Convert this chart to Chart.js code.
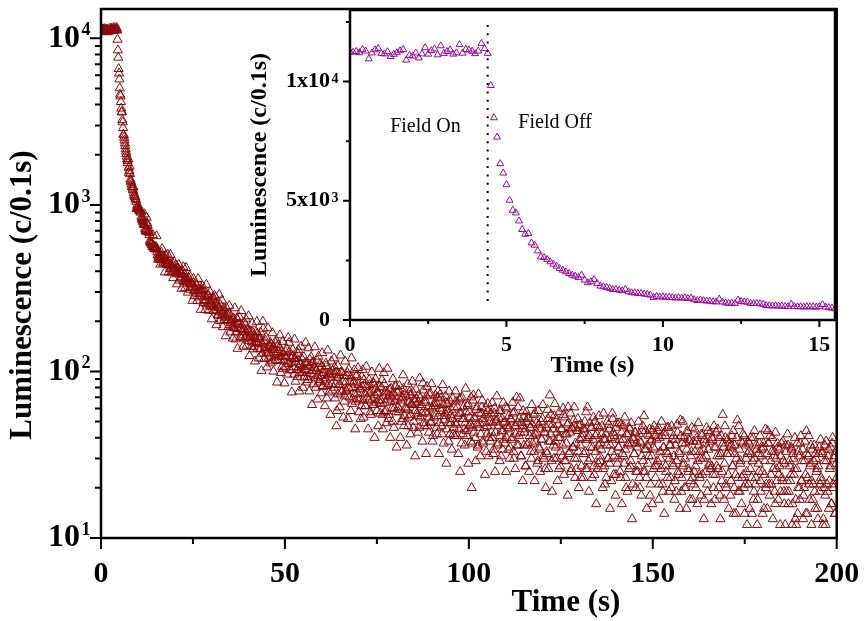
<!DOCTYPE html>
<html><head><meta charset="utf-8">
<script src="https://cdn.jsdelivr.net/npm/chart.js@4.4.1/dist/chart.umd.min.js"></script>
<style>
html,body{margin:0;padding:0;background:#fff;}
#wrap{position:relative;width:864px;height:621px;overflow:hidden;}
#main{position:absolute;left:0;top:0;width:864px;height:621px;}
#inset{position:absolute;left:230px;top:0;width:610px;height:390px;}
</style></head><body>
<div id="wrap">
<canvas id="main" width="864" height="621"></canvas>
<canvas id="inset" width="610" height="390"></canvas>
</div>
<script>
// ---------------- data (counts per 0.1 s) ----------------
const sampleStep = 0.1;          // s, early record (0 - 15.9 s)
const fieldOffTime = 4.4;        // s, field switched off
// 0.0 - 4.4 s, field on
const fieldOnCounts = [11250,11230,11260,11210,11350,11280,10950,11200,11330,11390,
  11180,11160,11250,11050,11140,11210,11290,11340,10900,11100,
  11070,11200,10990,11160,11420,11150,11300,11370,11120,11500,
  11180,11260,11330,11150,11200,11550,11190,11350,11320,11270,
  11170,11280,11600,11380,11180];
// 4.5 - 15.9 s, field off
const decayCounts = [9833,8481,7670,6556,6163,5677,5021,4603,4490,4155,
  3795,3598,3627,3234,3138,2900,2649,2622,2538,2441,
  2343,2259,2162,2092,2022,1952,1883,1841,1785,1883,
  1674,1562,1604,1701,1534,1423,1395,1367,1325,1283,
  1283,1255,1227,1283,1185,1143,1143,1115,1115,1088,
  1074,1046,948,
  990,965,975,950,960,940,925,945,915,930,
  900,920,850,820,835,810,800,790,770,760,
  880,760,720,700,710,690,840,780,760,750,
  700,690,700,680,660,610,600,590,600,580,
  590,575,560,660,570,555,560,545,560,550,
  555,540,560,650,545,520,500,470,490,480,
  500,470];
// 16.0 - 200.0 s, readings at 16.0, 16.25, 16.5 ...
const tailStart = 16, tailStep = 0.25;
const tailCounts = [
  505,470,490,470,451,488,451,460,437,463,440,413,439,421,445,403,410,413,384,399,
  387,406,363,385,388,368,353,381,359,343,357,366,334,319,335,337,320,305,320,310,
  326,298,306,279,308,293,284,309,269,285,265,281,285,263,246,264,248,270,244,247,
  235,257,242,218,242,227,250,216,224,231,204,220,212,222,202,222,191,200,204,187,
  209,183,195,172,207,180,191,180,160,189,177,165,178,192,162,169,153,172,159,173,
  150,172,141,161,157,147,169,148,156,136,150,128,200,152,138,153,129,139,129,140,
  149,123,136,115,139,126,147,127,116,131,139,117,123,107,129,115,123,106,136,115,
  111,131,102,120,113,124,96,119,114,102,128,106,98,111,120,100,107,92,113,102,
  113,89,107,118,97,101,112,84,105,91,101,116,94,86,104,94,107,81,98,87,
  91,108,82,97,75,99,92,84,101,80,106,84,47,92,73,95,83,99,76,87,
  94,71,86,76,98,80,70,87,92,64,80,87,73,66,95,74,83,68,78,62,
  81,67,89,73,62,81,75,67,83,57,77,68,86,63,72,79,58,75,67,81,
  64,80,55,71,84,65,58,74,68,55,78,66,70,50,74,60,82,57,68,61,
  77,59,67,50,69,79,54,61,71,59,47,65,72,55,63,75,50,66,58,68,
  54,65,46,69,61,56,85,49,65,57,71,47,61,53,74,50,60,41,64,56,
  62,46,70,54,49,73,58,42,63,51,56,65,45,57,38,67,49,59,52,42,
  61,49,66,41,54,45,56,69,37,52,61,45,49,57,41,64,47,53,38,20,
  46,72,53,40,59,48,36,56,49,42,61,38,52,46,55,33,47,58,40,50,
  56,40,49,34,60,43,51,36,47,58,41,31,52,44,49,37,61,40,47,34,
  46,35,51,40,56,30,47,42,70,49,36,52,43,31,47,58,36,45,27,50,
  37,52,41,46,30,48,41,33,56,38,43,29,48,34,45,39,52,31,43,26,
  46,32,52,38,72,42,29,48,36,54,38,30,43,48,26,40,33,45,36,55,
  29,42,37,48,61,32,43,25,46,35,51,30,37,26,44,33,47,36,23,40,
  45,32,50,26,39,61,29,41,35,46,23,39,27,50,33,42,26,36,46,29,
  34,47,26,39,21,42,36,30,48,28,36,22,56,43,31,39,24,49,30,35,
  39,23,43,32,47,28,34,20,42,37,26,45,29,37,21,39,32,43,25,35,
  27,42,20,37,31,47,25,34,44,23,36,28,41,18,38,31,44,26,34,23,
  39,29,46,21,33,26,41,19,35,43,27,33,23,46,30,36,20,39,27,31,
  22,36,29,43,24,32,51,19,37,27,40,30,20,34,43,25,38,22,33,17,
  38,25,33,20,40,29,36,23,30,42,24,34,17,37,31,21,44,27,38,26,
  27,39,20,35,24,43,31,26,40,18,32,22,55,35,28,40,20,32,24,37,
  32,22,41,27,14,36,24,30,51,19,34,28,38,23,42,20,14,36,25,32,
  21,37,26,32,14,40,19,30,23,34,17,28,37,22,31,25,35,15,29,20,
  32,44,37,18,29,21,40,26,33,16,30,22,35,24,27,19,37,22,29,16,
  12,33,22,36,19,27,24,34,16,30,26,13,12,37,20,31,17,41,22,34,
  18,29,24,44,14,31,21,27,36,22,17,29,19,32,25,15,27,35,21,23,
  32,12,20,36,12,29,19,34,22,27,16,37,21,30,14,33,23
];
// 16.125 - 199.875 s, readings in between (16.125, 16.375 ...)
const tailStartB = 16.125;
const tailCountsB = [
  439,517,545,445,482,394,499,444,502,394,460,502,394,427,364,454,392,435,334,417,
  438,352,397,314,403,424,346,317,419,347,298,363,374,310,338,266,360,284,316,334,
  265,360,292,325,235,306,325,258,284,234,332,255,289,232,300,253,206,279,231,285,
  279,190,252,217,289,201,233,267,185,240,209,163,241,218,185,248,172,214,195,158,
  182,240,156,208,137,192,212,161,231,173,141,197,158,206,143,179,215,124,164,141,
  194,136,165,115,172,199,137,120,161,172,101,146,181,119,134,160,106,182,121,143,
  112,145,170,100,135,117,154,86,144,123,165,98,132,151,104,85,132,123,96,159,
  149,102,120,75,135,106,156,87,121,93,135,76,110,141,98,80,122,103,149,86,
  93,138,76,109,122,63,114,96,140,80,101,68,123,89,111,74,129,82,102,62,
  112,69,134,84,95,55,115,77,96,120,69,99,58,108,83,61,125,75,98,53,
  66,115,77,94,52,103,79,58,120,68,85,102,45,93,69,105,57,79,52,93,
  102,53,83,62,107,70,45,89,74,55,99,63,84,40,90,65,74,47,104,56,
  67,89,45,98,57,76,49,104,52,72,40,79,60,90,46,66,81,35,75,57,
  82,40,70,52,95,47,73,60,36,84,53,75,42,64,87,46,68,31,78,56,
  43,72,91,53,63,38,77,47,67,32,81,56,43,72,49,84,38,62,53,72,
  65,42,76,32,60,69,47,83,37,54,71,28,64,49,76,42,55,34,69,46,
  41,76,48,61,32,68,25,56,70,42,52,36,79,44,62,28,57,48,70,37,
  67,43,52,29,61,35,73,46,31,56,67,37,49,24,60,42,64,31,53,38,
  43,65,32,56,25,50,71,37,53,29,58,44,34,65,39,50,25,60,45,54,
  30,52,39,65,33,57,26,47,36,61,41,69,31,49,22,53,43,27,57,36,
  53,25,46,33,63,37,55,22,42,49,28,58,35,25,50,39,63,30,43,20,
  33,59,26,48,38,55,19,45,30,64,35,51,22,40,57,27,45,31,60,24,
  53,29,42,18,49,33,56,26,45,35,61,23,46,30,52,20,39,48,27,42,
  23,45,33,57,26,40,19,49,30,46,35,53,24,41,16,47,28,54,31,37,
  42,20,56,27,39,23,50,30,45,15,40,33,52,24,41,18,46,28,35,49,
  25,48,16,39,31,53,23,42,19,36,46,27,49,13,40,32,43,20,37,25,
  50,23,38,18,44,29,54,25,34,15,42,31,45,21,39,16,35,47,27,41,
  27,44,17,40,30,50,21,35,14,41,25,46,32,19,36,23,47,28,41,17,
  39,19,48,25,33,15,41,23,50,28,20,37,15,44,26,39,17,31,46,23,
  21,45,27,38,16,49,24,33,18,41,30,13,39,25,46,19,34,28,43,16,
  40,24,47,17,35,27,45,20,31,13,41,25,37,17,47,21,32,39,15,35,
  18,36,27,44,20,32,14,40,23,47,19,29,16,37,24,41,21,30,12,38,
  33,15,40,23,29,17,44,21,36,12,32,25,41,19,34,14,37,24,45,21,
  15,37,21,41,24,33,13,31,19,43,26,37,17,34,12,31,23,38,19,28,
  36,19,42,16,29,22,35,12,32,24,40,17,26,14,33,20,37,22,29,13,
  20,38,14,32,23,41,17,28,12,34,21,36,15,30,26,13,32,19,39,22,
  33,13,29,18,38,21,31,15,26,35,16,40,20,31,14,28
];

// ---------------- axes / ticks ----------------
const mainXMajor = [0, 50, 100, 150, 200];
const mainXLabels = ['0', '50', '100', '150', '200'];
const mainXMinor = [25, 75, 125, 175];
const mainYMajor = [10, 100, 1000, 10000];
const mainYBase = ['10', '10', '10', '10'];
const mainYExp = ['1', '2', '3', '4'];
const mainYMinor = [20,30,40,50,60,70,80,90,200,300,400,500,600,700,800,900,2000,3000,4000,5000,6000,7000,8000,9000];

const insetXMajor = [0, 5, 10, 15];
const insetXLabels = ['0', '5', '10', '15'];
const insetXMinor = [2.5, 7.5, 12.5];
const insetYMajor = [0, 5000, 10000];
const insetYBase = ['0', '5x10', '1x10'];
const insetYExp = ['', '3', '4'];
const insetYMinor = [2500, 7500, 12500];
const insetXMax = 15.5;

const fieldLine = [800, 12400];   // extent of the dotted "field off" marker
const fieldOnLabel = {x: 2.41, y: 7880, text: 'Field On'};
const fieldOffLabel = {x: 5.38, y: 8060, text: 'Field Off'};

// ---------------- build points ----------------
const earlyCounts = fieldOnCounts.concat(decayCounts);
const earlyPoints = earlyCounts.map((c, i) => ({x: Math.round(i * sampleStep * 10) / 10, y: c}));
const tailPoints = tailCounts.map((c, j) => ({x: tailStart + j * tailStep, y: c}));
const tailPointsB = tailCountsB.map((c, j) => ({x: tailStartB + j * tailStep, y: c}));
const mainPoints = earlyPoints.concat(tailPoints, tailPointsB);
const insetPoints = earlyPoints.filter(p => p.x <= insetXMax + 0.05);

const SERIF = '"Liberation Serif", "Times New Roman", serif';
const mainColor = '#8b0a0a';
const insetColor = '#980a98';

function fixTicks(values) {
  return function (scale) { scale.ticks = values.map(v => ({value: v})); };
}
function fitBox(w, h) {
  return function (scale) {
    if (w !== null) scale.width = w;
    if (h !== null) scale.height = h;
    scale.paddingTop = 0; scale.paddingBottom = 0;
    scale.paddingLeft = 0; scale.paddingRight = 0;
  };
}

// ---------------- main chart ----------------
const mainDecor = {
  id: 'mainDecor',
  afterDraw(chart) {
    const {ctx, chartArea: a} = chart;
    const sx = chart.scales.x, sy = chart.scales.y;
    ctx.save();
    ctx.strokeStyle = '#000';
    ctx.lineWidth = 2;
    ctx.beginPath();
    mainXMajor.forEach(v => { const p = sx.getPixelForValue(v); ctx.moveTo(p, a.bottom); ctx.lineTo(p, a.bottom + 11); });
    mainXMinor.forEach(v => { const p = sx.getPixelForValue(v); ctx.moveTo(p, a.bottom); ctx.lineTo(p, a.bottom + 6); });
    mainYMajor.forEach(v => { const p = sy.getPixelForValue(v); ctx.moveTo(a.left, p); ctx.lineTo(a.left - 11, p); });
    mainYMinor.forEach(v => { const p = sy.getPixelForValue(v); ctx.moveTo(a.left, p); ctx.lineTo(a.left - 6, p); });
    ctx.stroke();
    ctx.lineWidth = 2.5;
    ctx.strokeRect(a.left, a.top, a.right - a.left, a.bottom - a.top);
    ctx.fillStyle = '#000';
    ctx.font = 'bold 18px ' + SERIF;
    ctx.textAlign = 'left';
    ctx.textBaseline = 'alphabetic';
    mainYMajor.forEach((v, i) => ctx.fillText(mainYExp[i], a.left - 19.5, sy.getPixelForValue(v) - 3));
    ctx.font = 'bold 31px ' + SERIF;
    ctx.textAlign = 'center';
    ctx.textBaseline = 'middle';
    ctx.fillText('Time (s)', 566, 603);
    ctx.translate(23, 295);
    ctx.rotate(-Math.PI / 2);
    ctx.fillText('Luminescence (c/0.1s)', 0, 0);
    ctx.restore();
  }
};

new Chart(document.getElementById('main'), {
  type: 'scatter',
  data: {datasets: [{
    data: mainPoints,
    pointStyle: 'triangle',
    pointRadius: 5.3,
    borderColor: mainColor,
    pointBorderColor: mainColor,
    backgroundColor: 'rgba(0,0,0,0)',
    pointBackgroundColor: 'rgba(0,0,0,0)',
    pointBorderWidth: 1,
    borderWidth: 1,
    showLine: false
  }]},
  options: {
    responsive: false, animation: false, events: [],
    layout: {padding: {top: 9, right: 27.3, left: 0, bottom: 0}},
    plugins: {legend: {display: false}, tooltip: {enabled: false}},
    scales: {
      x: {
        type: 'linear', min: 0, max: 200,
        grid: {display: false, drawTicks: false}, border: {display: false},
        afterBuildTicks: fixTicks(mainXMajor),
        afterFit: fitBox(null, 83),
        ticks: {autoSkip: false, maxRotation: 0, padding: 18, color: '#000',
          font: {family: SERIF, size: 30, weight: 'bold'},
          callback: (v, i) => mainXLabels[i]}
      },
      y: {
        type: 'logarithmic', min: 10, max: 15000,
        grid: {display: false, drawTicks: false}, border: {display: false},
        afterBuildTicks: fixTicks(mainYMajor),
        afterFit: fitBox(101, null),
        ticks: {autoSkip: false, padding: 21, color: '#000',
          font: {family: SERIF, size: 32, weight: 'bold'},
          callback: (v, i) => mainYBase[i]}
      }
    }
  },
  plugins: [mainDecor]
});

// ---------------- inset chart ----------------
const insetDecor = {
  id: 'insetDecor',
  afterDraw(chart) {
    const {ctx, chartArea: a} = chart;
    const sx = chart.scales.x, sy = chart.scales.y;
    ctx.save();
    ctx.strokeStyle = '#000';
    ctx.lineWidth = 2;
    ctx.beginPath();
    insetXMajor.forEach(v => { const p = sx.getPixelForValue(v); ctx.moveTo(p, a.bottom); ctx.lineTo(p, a.bottom + 7); });
    insetXMinor.forEach(v => { const p = sx.getPixelForValue(v); ctx.moveTo(p, a.bottom); ctx.lineTo(p, a.bottom + 4); });
    insetYMajor.forEach(v => { const p = sy.getPixelForValue(v); ctx.moveTo(a.left, p); ctx.lineTo(a.left - 7, p); });
    insetYMinor.forEach(v => { const p = sy.getPixelForValue(v); ctx.moveTo(a.left, p); ctx.lineTo(a.left - 4, p); });
    ctx.stroke();
    ctx.lineWidth = 2.5;
    ctx.strokeRect(a.left, a.top, a.right - a.left, a.bottom - a.top);
    ctx.fillStyle = '#000';
    ctx.font = 'bold 14px ' + SERIF;
    ctx.textAlign = 'left';
    ctx.textBaseline = 'alphabetic';
    insetYMajor.forEach((v, i) => { if (insetYExp[i]) ctx.fillText(insetYExp[i], a.left - 18.5, sy.getPixelForValue(v) + 1); });
    ctx.font = '20px ' + SERIF;
    ctx.textAlign = 'center';
    ctx.fillText(fieldOnLabel.text, sx.getPixelForValue(fieldOnLabel.x), sy.getPixelForValue(fieldOnLabel.y));
    ctx.textAlign = 'left';
    ctx.fillText(fieldOffLabel.text, sx.getPixelForValue(fieldOffLabel.x), sy.getPixelForValue(fieldOffLabel.y));
    ctx.restore();
  }
};

new Chart(document.getElementById('inset'), {
  type: 'scatter',
  data: {datasets: [
    {
      data: insetPoints,
      pointStyle: 'triangle',
      pointRadius: 4,
      borderColor: insetColor,
      pointBorderColor: insetColor,
      backgroundColor: 'rgba(0,0,0,0)',
      pointBackgroundColor: 'rgba(0,0,0,0)',
      pointBorderWidth: 1,
      borderWidth: 1,
      showLine: false
    },
    {
      data: fieldLine.map(v => ({x: fieldOffTime, y: v})),
      showLine: true,
      borderColor: '#000',
      borderWidth: 2,
      borderDash: [2, 6.3],
      pointRadius: 0
    }
  ]},
  options: {
    responsive: false, animation: false, events: [],
    layout: {padding: {top: 10, right: 3.3, left: 0, bottom: 0}},
    plugins: {legend: {display: false}, tooltip: {enabled: false}},
    scales: {
      x: {
        type: 'linear', min: 0, max: insetXMax,
        grid: {display: false, drawTicks: false}, border: {display: false},
        afterBuildTicks: fixTicks(insetXMajor),
        afterFit: fitBox(null, 70),
        ticks: {autoSkip: false, maxRotation: 0, padding: 12, color: '#000',
          font: {family: SERIF, size: 22, weight: 'bold'},
          callback: (v, i) => insetXLabels[i]},
        title: {display: true, text: 'Time (s)', color: '#000',
          font: {family: SERIF, size: 24, weight: 'bold'}, padding: {top: 0, bottom: 9.6}}
      },
      y: {
        type: 'linear', min: 0, max: 13000,
        grid: {display: false, drawTicks: false}, border: {display: false},
        afterBuildTicks: fixTicks(insetYMajor),
        afterFit: fitBox(120, null),
        ticks: {autoSkip: false, padding: 20, color: '#000',
          font: {family: SERIF, size: 22, weight: 'bold'},
          callback: (v, i) => insetYBase[i]},
        title: {display: true, text: 'Luminescence (c/0.1s)', color: '#000',
          font: {family: SERIF, size: 24, weight: 'bold'}, padding: {top: 15.6, bottom: 0}}
      }
    }
  },
  plugins: [insetDecor]
});
</script>
</body></html>
